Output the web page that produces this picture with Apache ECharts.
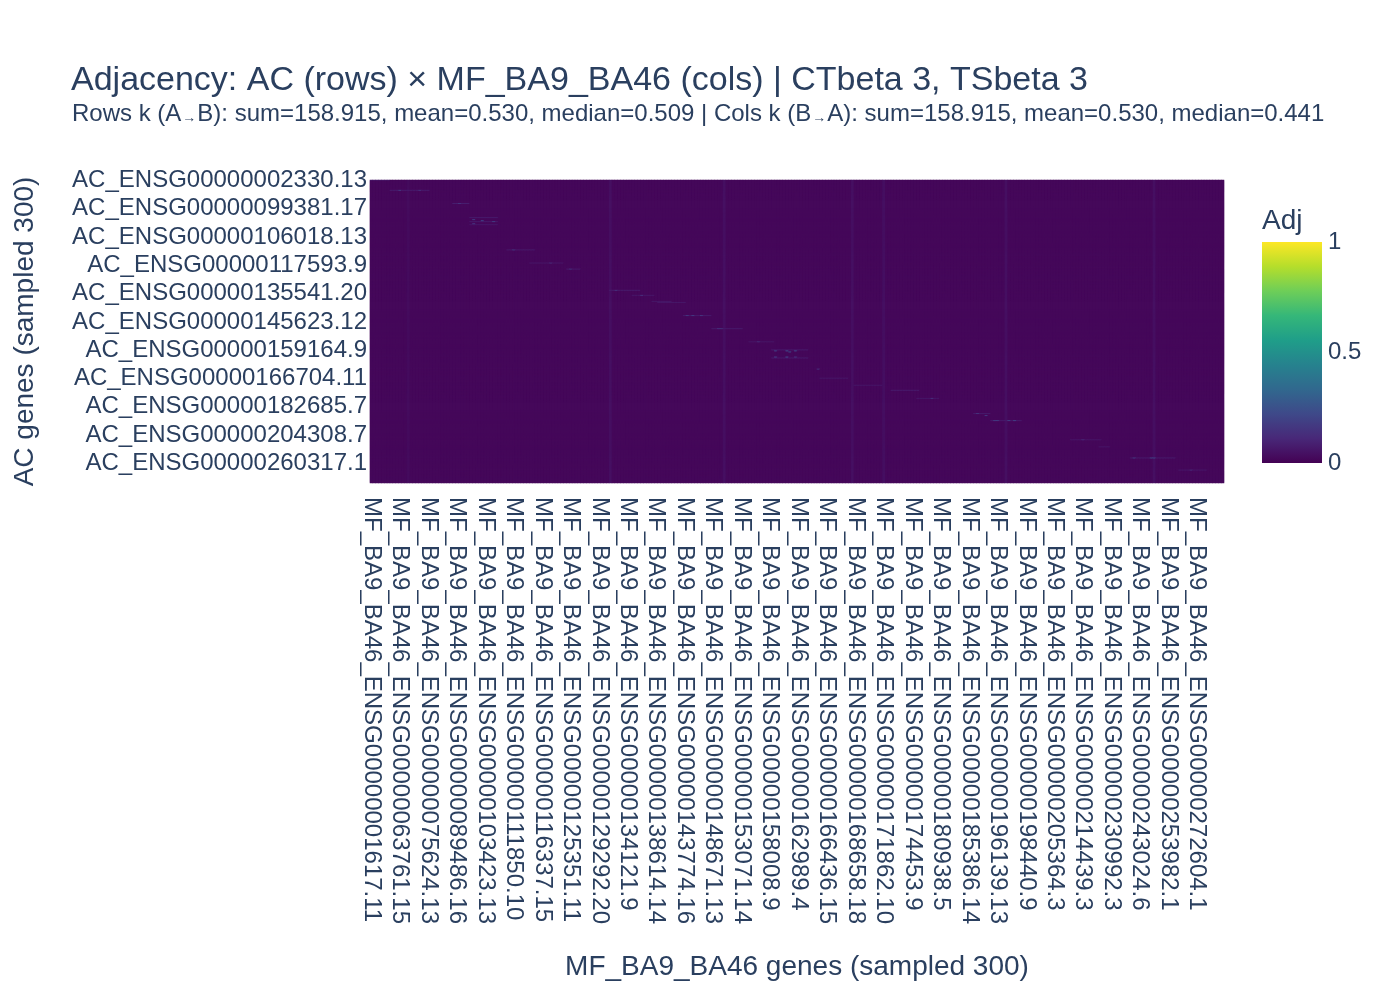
<!DOCTYPE html>
<html>
<head>
<meta charset="utf-8">
<title>Adjacency heatmap</title>
<script src="https://cdn.jsdelivr.net/npm/echarts@6/dist/echarts.min.js"></script>
<style>
  html, body { margin: 0; padding: 0; background: #fff; }
  #chart { width: 1400px; height: 1000px; }
</style>
</head>
<body>
<div id="chart"></div>
<script>
// sizes of the sampled matrix
var nRows = 300;
var nCols = 300;

// tick labels shown on the axes (every 28th row, every 10th column)
var rowTickLabels = [
    'AC_ENSG00000002330.13', 'AC_ENSG00000099381.17', 'AC_ENSG00000106018.13',
    'AC_ENSG00000117593.9', 'AC_ENSG00000135541.20', 'AC_ENSG00000145623.12',
    'AC_ENSG00000159164.9', 'AC_ENSG00000166704.11', 'AC_ENSG00000182685.7',
    'AC_ENSG00000204308.7', 'AC_ENSG00000260317.1'
];
var rowTickStep = 28;

var colTickLabels = [
    'MF_BA9_BA46_ENSG00000001617.11', 'MF_BA9_BA46_ENSG00000063761.15',
    'MF_BA9_BA46_ENSG00000075624.13', 'MF_BA9_BA46_ENSG00000089486.16',
    'MF_BA9_BA46_ENSG00000103423.13', 'MF_BA9_BA46_ENSG00000111850.10',
    'MF_BA9_BA46_ENSG00000116337.15', 'MF_BA9_BA46_ENSG00000125351.11',
    'MF_BA9_BA46_ENSG00000129292.20', 'MF_BA9_BA46_ENSG00000134121.9',
    'MF_BA9_BA46_ENSG00000138614.14', 'MF_BA9_BA46_ENSG00000143774.16',
    'MF_BA9_BA46_ENSG00000148671.13', 'MF_BA9_BA46_ENSG00000153071.14',
    'MF_BA9_BA46_ENSG00000158008.9', 'MF_BA9_BA46_ENSG00000162989.4',
    'MF_BA9_BA46_ENSG00000166436.15', 'MF_BA9_BA46_ENSG00000168658.18',
    'MF_BA9_BA46_ENSG00000171862.10', 'MF_BA9_BA46_ENSG00000174453.9',
    'MF_BA9_BA46_ENSG00000180938.5', 'MF_BA9_BA46_ENSG00000185386.14',
    'MF_BA9_BA46_ENSG00000196139.13', 'MF_BA9_BA46_ENSG00000198440.9',
    'MF_BA9_BA46_ENSG00000205364.3', 'MF_BA9_BA46_ENSG00000214439.3',
    'MF_BA9_BA46_ENSG00000230992.3', 'MF_BA9_BA46_ENSG00000243024.6',
    'MF_BA9_BA46_ENSG00000253982.1', 'MF_BA9_BA46_ENSG00000272604.1'
];
var colTickStep = 10;

// almost every pair is ~0
var baseAdj = 0.02;

// columns with a faint vertical streak: [col, value]
var streakCols = [
    [13, 0.03], [84, 0.042], [124, 0.042], [169, 0.042], [180, 0.04],
    [223, 0.042], [275, 0.042]
];

// faint row segments along the diagonal: [row, colFrom, colTo, value]
var diagSegments = [
    [0, 0, 6, 0.06], [10, 7, 20, 0.07], [23, 29, 34, 0.08],
    [37, 35, 44, 0.07], [41, 35, 44, 0.07], [44, 35, 44, 0.06],
    [69, 48, 57, 0.07], [82, 56, 67, 0.06], [88, 69, 73, 0.07],
    [109, 84, 94, 0.07], [114, 92, 99, 0.06], [120, 99, 105, 0.06],
    [121, 101, 110, 0.06], [134, 110, 119, 0.07], [147, 120, 130, 0.07],
    [160, 133, 141, 0.06], [168, 141, 153, 0.07], [176, 141, 153, 0.07],
    [196, 158, 167, 0.06], [203, 170, 179, 0.06], [208, 183, 192, 0.07],
    [216, 192, 199, 0.06], [231, 212, 217, 0.07], [238, 218, 228, 0.07],
    [257, 246, 256, 0.06], [264, 256, 259, 0.06], [275, 267, 282, 0.07],
    [287, 284, 293, 0.06]
];

// brighter single cells: [row, col, value]
var spotCells = [
    [10, 10, 0.16], [10, 17, 0.13], [23, 31, 0.14],
    [39, 36, 0.18], [40, 39, 0.2], [41, 43, 0.2], [43, 36, 0.15],
    [69, 50, 0.16], [82, 63, 0.12], [88, 70, 0.14],
    [109, 86, 0.14], [114, 95, 0.13],
    [134, 111, 0.17], [134, 113, 0.18], [134, 116, 0.16],
    [147, 122, 0.15], [147, 123, 0.14], [160, 136, 0.13],
    [169, 142, 0.2], [169, 146, 0.22], [169, 149, 0.22],
    [170, 147, 0.22], [175, 142, 0.18], [175, 146, 0.2], [175, 149, 0.14],
    [187, 157, 0.14], [216, 197, 0.13],
    [231, 213, 0.15], [233, 216, 0.17], [238, 219, 0.18], [238, 220, 0.18],
    [238, 224, 0.2], [238, 226, 0.2], [257, 250, 0.12],
    [275, 268, 0.18], [275, 274, 0.2], [275, 275, 0.2], [287, 288, 0.12]
];

var viridis = ['#440154', '#482878', '#3e4989', '#31688e', '#26828e',
    '#1f9e89', '#35b779', '#6ece58', '#b5de2b', '#fde725'];

var titleText = 'Adjacency: AC (rows) \u00d7 MF_BA9_BA46 (cols) | CTbeta 3, TSbeta 3';
var subText = 'Rows k (A{ar|\u2192}B): sum=158.915, mean=0.530, median=0.509 | ' +
    'Cols k (B{ar|\u2192}A): sum=158.915, mean=0.530, median=0.441';

// build the matrix from the readings
var matrix = [];
for (var r = 0; r < nRows; r++) {
    var row = [];
    for (var c = 0; c < nCols; c++) row.push(baseAdj);
    matrix.push(row);
}
streakCols.forEach(function (s) {
    for (var r = 0; r < nRows; r++) matrix[r][s[0]] = Math.max(matrix[r][s[0]], s[1]);
});
diagSegments.forEach(function (s) {
    for (var c = s[1]; c <= s[2]; c++) matrix[s[0]][c] = Math.max(matrix[s[0]][c], s[3]);
});
spotCells.forEach(function (s) {
    matrix[s[0]][s[1]] = s[2];
});

var cells = [];
for (var r = 0; r < nRows; r++) {
    for (var c = 0; c < nCols; c++) cells.push([c, r, matrix[r][c]]);
}
var rowCats = [], colCats = [];
for (var i = 0; i < nRows; i++) rowCats.push(String(i));
for (var j = 0; j < nCols; j++) colCats.push(String(j));

var font = "'Liberation Sans', Arial, sans-serif";
var ink = '#2a3f5f';

var chart = echarts.init(document.getElementById('chart'));
chart.setOption({
    animation: false,
    backgroundColor: '#fff',
    textStyle: { fontFamily: font, color: ink },
    title: [
        { text: titleText, left: 66, top: 59, textStyle: { fontSize: 34, fontWeight: 'normal', color: ink, fontFamily: font } },
        { text: subText, left: 67, top: 97, textStyle: { fontSize: 24, fontWeight: 'normal', color: ink, fontFamily: font,
            rich: { ar: { fontSize: 14, color: ink, padding: [9, 1, 0, 1] } } } },
        { text: 'Adj', left: 1257, top: 202, textStyle: { fontSize: 28, fontWeight: 'normal', color: ink, fontFamily: font } }
    ],
    grid: [
        { left: 370, top: 180, width: 854, height: 303, show: true, backgroundColor: '#450559', borderWidth: 0 },
        { left: 1262, top: 242, width: 60, height: 221 }
    ],
    xAxis: [{
        type: 'category', gridIndex: 0, data: colCats,
        name: 'MF_BA9_BA46 genes (sampled 300)', nameLocation: 'middle', nameGap: 470,
        nameTextStyle: { fontSize: 28, color: ink, fontFamily: font },
        axisLine: { show: false }, axisTick: { show: false }, splitLine: { show: false },
        axisLabel: {
            interval: colTickStep - 1, rotate: -90, margin: 14, fontSize: 24, color: ink, fontFamily: font,
            formatter: function (v, idx) { return colTickLabels[idx / colTickStep]; }
        }
    }, {
        type: 'category', gridIndex: 1, data: ['Adj'], show: false
    }],
    yAxis: [{
        type: 'category', gridIndex: 0, data: rowCats, inverse: true,
        name: 'AC genes (sampled 300)', nameLocation: 'middle', nameGap: 331,
        nameTextStyle: { fontSize: 28, color: ink, fontFamily: font },
        axisLine: { show: false }, axisTick: { show: false }, splitLine: { show: false },
        axisLabel: {
            interval: rowTickStep - 1, margin: 3, fontSize: 24, color: ink, fontFamily: font,
            formatter: function (v, idx) { return rowTickLabels[idx / rowTickStep]; }
        }
    }, {
        type: 'value', gridIndex: 1, min: 0, max: 1, interval: 0.5, position: 'right',
        axisLine: { show: false }, axisTick: { show: false }, splitLine: { show: false },
        axisLabel: { margin: 6, fontSize: 24, color: ink, fontFamily: font,
            formatter: function (v) { return String(v); } }
    }],
    visualMap: {
        show: false, type: 'continuous', min: 0, max: 1, seriesIndex: 0,
        inRange: { color: viridis }
    },
    series: [{
        type: 'heatmap', xAxisIndex: 0, yAxisIndex: 0, data: cells,
        progressive: 0, itemStyle: { borderWidth: 0 }, emphasis: { disabled: true }
    }, {
        type: 'bar', xAxisIndex: 1, yAxisIndex: 1, data: [1], barWidth: '100%', silent: true,
        itemStyle: {
            color: new echarts.graphic.LinearGradient(0, 1, 0, 0, viridis.map(function (col, k) {
                return { offset: k / (viridis.length - 1), color: col };
            }))
        }
    }]
});
</script>
</body>
</html>
